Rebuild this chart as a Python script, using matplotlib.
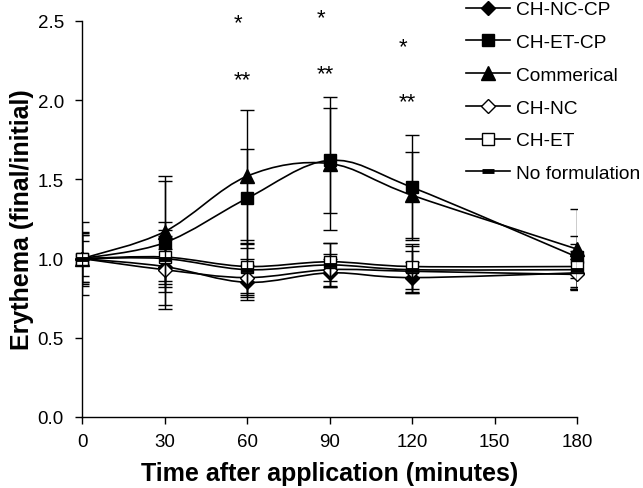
import numpy as np
import matplotlib
matplotlib.use("Agg")
import matplotlib.pyplot as plt
from matplotlib.path import Path
from matplotlib.patches import PathPatch
from matplotlib.ticker import FormatStrFormatter

plt.rcParams['font.family'] = ['Liberation Sans', 'DejaVu Sans']

# ---- data ----
times = [0, 30, 60, 90, 120, 180]
series_names = ["CH-NC-CP", "CH-ET-CP", "Commerical", "CH-NC", "CH-ET", "No formulation"]
ch_nc_cp = [1.00, 0.95, 0.85, 0.91, 0.88, 0.91]
ch_et_cp = [1.00, 1.10, 1.38, 1.62, 1.45, 1.01]
commercial = [1.00, 1.17, 1.52, 1.60, 1.40, 1.06]
ch_nc = [1.00, 0.93, 0.88, 0.93, 0.92, 0.90]
ch_et = [1.00, 1.01, 0.95, 0.98, 0.95, 0.95]
no_form = [1.00, 1.00, 0.93, 0.96, 0.93, 0.93]

ch_nc_cp_sd = [0.15, 0.11, 0.11, 0.09, 0.10, 0.09]
ch_et_cp_sd = [0.16, 0.39, 0.31, 0.33, 0.33, 0.13]
commercial_sd = [0.23, 0.35, 0.42, 0.42, 0.27, 0.25]
ch_nc_sd = [0.11, 0.25, 0.12, 0.10, 0.13, 0.10]
ch_et_sd = [0.17, 0.22, 0.17, 0.12, 0.14, 0.14]
no_form_sd = [0.15, 0.14, 0.16, 0.14, 0.15, 0.12]

star_x = [60, 90, 120]
star1_y = [2.49, 2.52, 2.34]
star2_y = [2.13, 2.17, 1.99]

x_ticks = [0, 30, 60, 90, 120, 150, 180]
y_ticks = [0.0, 0.5, 1.0, 1.5, 2.0, 2.5]


def smooth_path(xs, ys):
    pts = np.column_stack([xs, ys]).astype(float)
    n = len(pts)
    verts = [pts[0]]
    codes = [Path.MOVETO]
    for i in range(n - 1):
        p0 = pts[i - 1] if i > 0 else pts[i]
        p1 = pts[i]
        p2 = pts[i + 1]
        p3 = pts[i + 2] if i + 2 < n else pts[i + 1]
        c1 = p1 + (p2 - p0) / 6.0
        c2 = p2 - (p3 - p1) / 6.0
        verts += [c1, c2, p2]
        codes += [Path.CURVE4] * 3
    return Path(verts, codes)


fig = plt.figure(figsize=(6.43, 4.89), dpi=100)
ax = fig.add_axes([82 / 643, 1 - 418 / 489, (577 - 82) / 643, (418 - 22) / 489])

styles = [
    dict(marker='D', mfc='black', mec='black', ms=7),
    dict(marker='s', mfc='black', mec='black', ms=9),
    dict(marker='^', mfc='black', mec='black', ms=10),
    dict(marker='D', mfc='white', mec='black', ms=7),
    dict(marker='s', mfc='white', mec='black', ms=9),
    dict(marker='_', mfc='black', mec='black', ms=9, mew=3.5),
]
data = [ch_nc_cp, ch_et_cp, commercial, ch_nc, ch_et, no_form]
sds = [ch_nc_cp_sd, ch_et_cp_sd, commercial_sd, ch_nc_sd, ch_et_sd, no_form_sd]

handles = []
for k, (vals, sd, st, name) in enumerate(zip(data, sds, styles, series_names)):
    z = 3 + k
    ax.errorbar(times, vals, yerr=sd, fmt='none', ecolor='black', elinewidth=1.0,
                capsize=4.7, capthick=1.0, zorder=z)
    ax.add_patch(PathPatch(smooth_path(times, vals), fill=False, edgecolor='black',
                           lw=1.2, zorder=z))
    mew = st.pop('mew', 1.0)
    ax.plot(times, vals, linestyle='none', mew=mew, zorder=z + 0.5, clip_on=False, **st)
    h, = ax.plot([], [], color='black', lw=1.2, mew=mew, label=name, **st)
    handles.append(h)

for x, y1, y2 in zip(star_x, star1_y, star2_y):
    ax.annotate('*', xy=(x, y1), xytext=(-9.5, 0), textcoords='offset points',
                ha='left', va='center', fontsize=16, annotation_clip=False)
    ax.annotate('**', xy=(x, y2), xytext=(-9.5, 0), textcoords='offset points',
                ha='left', va='center', fontsize=16, annotation_clip=False)

ax.set_xlim(0, 180)
ax.set_ylim(0, 2.5)
ax.set_xticks(x_ticks)
ax.set_yticks(y_ticks)
ax.yaxis.set_major_formatter(FormatStrFormatter('%.1f'))
for s in ['top', 'right']:
    ax.spines[s].set_visible(False)
for s in ['left', 'bottom']:
    ax.spines[s].set_linewidth(1.0)
ax.tick_params(direction='out', length=5, width=1.0, labelsize=13.5)
ax.tick_params(axis='x', pad=6.5)
ax.tick_params(axis='y', pad=8)

ax.set_xlabel('Time after application (minutes)', fontsize=18, fontweight='bold', labelpad=8)
ax.set_ylabel('Erythema (final/initial)', fontsize=18, fontweight='bold', labelpad=3)

fig.legend(handles=handles, loc='upper left', bbox_to_anchor=(466 / 643, 1 - 2 / 489),
           frameon=False, fontsize=13.8, handlelength=2.3, handletextpad=0.3,
           labelspacing=0.8, borderpad=0.0, borderaxespad=0.0)

fig.savefig('out.png', dpi=100)
